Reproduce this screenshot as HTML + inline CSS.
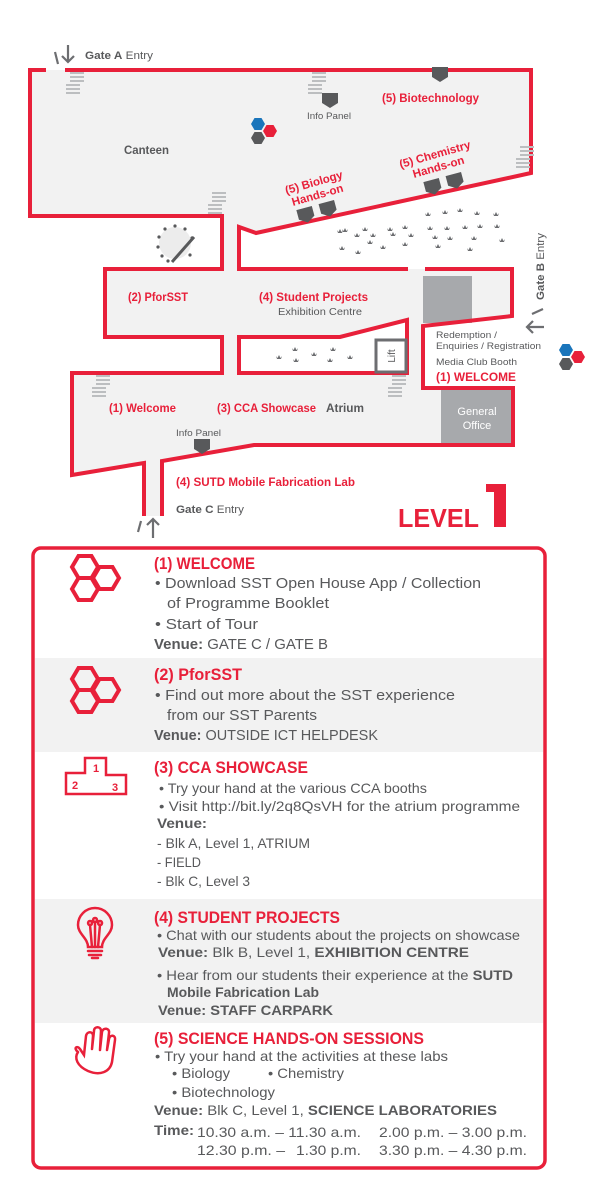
<!DOCTYPE html>
<html><head><meta charset="utf-8"><style>
html,body{margin:0;padding:0;background:#fff;}
svg{display:block;}
text{font-family:"Liberation Sans",sans-serif;}
</style></head><body>
<svg width="598" height="1194" viewBox="0 0 598 1194" xmlns="http://www.w3.org/2000/svg">
<defs>
<g id="st"><rect x="0" y="0" width="14" height="2" fill="#bcbec0"/><rect x="0" y="4" width="14" height="2" fill="#bcbec0"/><rect x="0" y="8" width="14" height="2" fill="#bcbec0"/><rect x="-4" y="12" width="14" height="2" fill="#bcbec0"/><rect x="-4" y="16" width="14" height="2" fill="#bcbec0"/><rect x="-4" y="20" width="14" height="2" fill="#bcbec0"/></g>
<path id="pl" d="M-3,-1 L-1.5,1 L0,-2 L1.5,1 L3,-1 L2,2 L-2,2 Z" fill="#6d6e71"/>
<path id="pent" d="M-8,-7 H8 V3 L0,8 L-8,3 Z" fill="#58595b"/>
<path id="hx" d="M-7,0 L-3.5,-6 L3.5,-6 L7,0 L3.5,6 L-3.5,6 Z"/>
<path id="hxo" d="M-13,0 L-6.5,-11 L6.5,-11 L13,0 L6.5,11 L-6.5,11 Z" fill="none" stroke="#e8203a" stroke-width="4"/>
</defs>

<!-- floor fills -->
<polygon points="30,70 531,70 531,173 256,233 239,227 239,269 222,269 222,216 30,216" fill="#f2f2f2"/>
<polygon points="105,269 512,269 512,316 423,326 423,388 513,388 513,445 254,445 162,461 162,516 144,516 144,463 72,475 72,373 222,373 222,337 105,337" fill="#f2f2f2"/>
<rect x="423" y="276" width="49" height="47" fill="#a7a9ac"/>
<rect x="441" y="390" width="72" height="55" fill="#a7a9ac"/>
<polygon points="239,337 340,337 407,320 407,373 239,373" fill="#fff"/>

<!-- red walls -->
<g fill="none" stroke="#e8203a" stroke-width="4" stroke-linejoin="miter">
<polyline points="46,70 30,70 30,216 222,216 222,269 105,269 105,337 222,337 222,373 72,373 72,475 144,463 144,516"/>
<polyline points="65,70 531,70 531,173 256,233 239,227 239,269 408,269"/>
<polyline points="425,269 512,269 512,316 423,326 423,388 513,388 513,445 254,445 162,461 162,516"/>
<polygon points="239,337 340,337 407,320 407,373 239,373"/>
</g>
<rect x="376" y="340" width="30" height="32" fill="#fff" stroke="#6d6e71" stroke-width="3"/>
<text transform="translate(395,356) rotate(-90)" font-size="10" fill="#58595b" text-anchor="middle">Lift</text>

<!-- stairs -->
<use href="#st" x="70" y="72"/>
<use href="#st" x="312" y="72"/>
<use href="#st" x="520" y="146"/>
<use href="#st" x="212" y="192"/>
<use href="#st" x="96" y="375"/>
<use href="#st" x="392" y="375"/>

<!-- pentagons -->
<use href="#pent" x="440" y="74"/>
<use href="#pent" x="330" y="100"/>
<use href="#pent" x="202" y="446"/>
<g transform="rotate(-15 316 210)"><use href="#pent" x="305" y="212"/><use href="#pent" x="328" y="212"/></g>
<g transform="rotate(-15 443 182)"><use href="#pent" x="432" y="184"/><use href="#pent" x="455" y="184"/></g>

<!-- hex clusters -->
<use href="#hx" x="258" y="124" fill="#1a75bb"/>
<use href="#hx" x="270" y="131" fill="#e8203a"/>
<use href="#hx" x="258" y="138" fill="#58595b"/>
<use href="#hx" x="566" y="350" fill="#1a75bb"/>
<use href="#hx" x="578" y="357" fill="#e8203a"/>
<use href="#hx" x="566" y="364" fill="#58595b"/>

<!-- round table -->
<circle cx="175" cy="243" r="16" fill="#ececec"/>
<g fill="#58595b">
<circle cx="175" cy="226" r="1.6"/><circle cx="165" cy="229" r="1.6"/><circle cx="185" cy="229" r="1.6"/><circle cx="159" cy="237" r="1.6"/><circle cx="158" cy="247" r="1.6"/><circle cx="162" cy="256" r="1.6"/><circle cx="168" cy="261" r="1.6"/><circle cx="192" cy="238" r="1.6"/><circle cx="190" cy="255" r="1.6"/>
</g>
<line x1="172" y1="262" x2="194" y2="237" stroke="#58595b" stroke-width="3"/>

<!-- plants -->
<g>
<use href="#pl" x="445" y="212"/><use href="#pl" x="460" y="210"/><use href="#pl" x="477" y="213"/><use href="#pl" x="496" y="214"/><use href="#pl" x="428" y="214"/>
<use href="#pl" x="345" y="230"/><use href="#pl" x="365" y="229"/><use href="#pl" x="390" y="229"/><use href="#pl" x="405" y="227"/><use href="#pl" x="430" y="228"/><use href="#pl" x="447" y="228"/><use href="#pl" x="465" y="227"/><use href="#pl" x="480" y="226"/><use href="#pl" x="497" y="226"/>
<use href="#pl" x="340" y="231"/><use href="#pl" x="357" y="235"/><use href="#pl" x="373" y="235"/><use href="#pl" x="393" y="234"/><use href="#pl" x="411" y="235"/><use href="#pl" x="435" y="237"/><use href="#pl" x="450" y="238"/><use href="#pl" x="474" y="238"/><use href="#pl" x="502" y="240"/>
<use href="#pl" x="342" y="248"/><use href="#pl" x="358" y="252"/><use href="#pl" x="370" y="242"/><use href="#pl" x="383" y="247"/><use href="#pl" x="405" y="244"/><use href="#pl" x="438" y="246"/><use href="#pl" x="470" y="249"/>
<use href="#pl" x="279" y="357"/><use href="#pl" x="295" y="349"/><use href="#pl" x="296" y="360"/><use href="#pl" x="314" y="354"/><use href="#pl" x="333" y="349"/><use href="#pl" x="330" y="360"/><use href="#pl" x="350" y="357"/>
</g>

<!-- map labels -->
<g font-size="11" fill="#58595b">
<text x="85" y="59" textLength="68" lengthAdjust="spacingAndGlyphs"><tspan font-weight="bold">Gate A</tspan> Entry</text>
<text x="124" y="154" font-size="11.5" font-weight="bold" textLength="45" lengthAdjust="spacingAndGlyphs">Canteen</text>
<text x="307" y="119" font-size="9" textLength="44" lengthAdjust="spacingAndGlyphs">Info Panel</text>
<text x="278" y="315" font-size="10" textLength="84" lengthAdjust="spacingAndGlyphs">Exhibition Centre</text>
<text x="436" y="338" font-size="9.5" textLength="61" lengthAdjust="spacingAndGlyphs">Redemption /</text>
<text x="436" y="349" font-size="9.5" textLength="105" lengthAdjust="spacingAndGlyphs">Enquiries / Registration</text>
<text x="436" y="365" font-size="9.5" textLength="81" lengthAdjust="spacingAndGlyphs">Media Club Booth</text>
<text x="326" y="412" font-size="11.5" font-weight="bold" textLength="38" lengthAdjust="spacingAndGlyphs">Atrium</text>
<text x="176" y="436" font-size="9" textLength="45" lengthAdjust="spacingAndGlyphs">Info Panel</text>
<text x="176" y="513" textLength="68" lengthAdjust="spacingAndGlyphs"><tspan font-weight="bold">Gate C</tspan> Entry</text>
<text transform="translate(544,300) rotate(-90)" textLength="67" lengthAdjust="spacingAndGlyphs"><tspan font-weight="bold">Gate B</tspan> Entry</text>
</g>
<text x="477" y="415" font-size="11" fill="#fff" text-anchor="middle">General</text>
<text x="477" y="429" font-size="11" fill="#fff" text-anchor="middle">Office</text>
<g font-size="11.5" fill="#e8203a" font-weight="bold">
<text x="382" y="102" textLength="97" lengthAdjust="spacingAndGlyphs">(5) Biotechnology</text>
<text x="128" y="301" textLength="60" lengthAdjust="spacingAndGlyphs">(2) PforSST</text>
<text x="259" y="301" textLength="109" lengthAdjust="spacingAndGlyphs">(4) Student Projects</text>
<text x="436" y="381" textLength="80" lengthAdjust="spacingAndGlyphs">(1) WELCOME</text>
<text x="109" y="412" textLength="67" lengthAdjust="spacingAndGlyphs">(1) Welcome</text>
<text x="217" y="412" textLength="99" lengthAdjust="spacingAndGlyphs">(3) CCA Showcase</text>
<text x="176" y="486" textLength="179" lengthAdjust="spacingAndGlyphs">(4) SUTD Mobile Fabrication Lab</text>
<g transform="rotate(-16 316 190)">
<text x="316" y="186" text-anchor="middle">(5) Biology</text>
<text x="316" y="199" text-anchor="middle">Hands-on</text>
</g>
<g transform="rotate(-16 437 162)">
<text x="437" y="158" text-anchor="middle">(5) Chemistry</text>
<text x="437" y="171" text-anchor="middle">Hands-on</text>
</g>
</g>

<!-- arrows -->
<g stroke="#6d6e71" stroke-width="2.2" fill="none">
<line x1="55" y1="52" x2="58" y2="64"/>
<path d="M68,45 V62 M62,56 L68,62 L74,56"/>
<line x1="138" y1="532" x2="141" y2="521"/>
<path d="M153,538 V519 M147,525 L153,519 L159,525"/>
<line x1="532" y1="314" x2="543" y2="309"/>
<path d="M544,327 H527 M533,321 L527,327 L533,333"/>
</g>

<!-- LEVEL 1 -->
<text x="398" y="527" font-size="26" font-weight="bold" fill="#e8203a" textLength="81" lengthAdjust="spacingAndGlyphs">LEVEL</text>
<rect x="494" y="484" width="12" height="43" fill="#e8203a"/>
<path d="M486,484 H500 V492 H486 Z" fill="#e8203a"/>

<!-- Legend box -->
<rect x="33" y="548" width="512" height="620" rx="8" fill="#fff" stroke="#e8203a" stroke-width="3.5"/>
<rect x="35" y="658" width="508" height="94" fill="#f2f2f2"/>
<rect x="35" y="899" width="508" height="124" fill="#f2f2f2"/>

<!-- icons -->
<use href="#hxo" x="85" y="567"/><use href="#hxo" x="106" y="578"/><use href="#hxo" x="85" y="589"/>
<use href="#hxo" x="85" y="679"/><use href="#hxo" x="106" y="690"/><use href="#hxo" x="85" y="701"/>
<path d="M66,794 V773 H85 V758 H106 V775 H126 V794 Z" fill="none" stroke="#e8203a" stroke-width="2.5"/>
<g font-size="11" font-weight="bold" fill="#e8203a"><text x="72" y="789">2</text><text x="93" y="772">1</text><text x="112" y="791">3</text></g>
<g fill="none" stroke="#e8203a" stroke-width="2.5" stroke-linecap="round">
<path d="M88,947 C88,938 78,934 78,925 A17,17 0 1 1 112,925 C112,934 102,938 102,947 Z"/>
<path d="M88,951 H102 M89,955 H101 M92,958 H98"/>
<path d="M92,947 L90,925 M98,947 L100,925 M95,947 V922 M90,925 a2,2 0 1 1 0.1,0 M100,925 a2,2 0 1 1 0.1,0 M95,922 a2,2 0 1 1 0.1,0"/>
<path d="M78,1052 C74,1058 77,1066 88,1071 C100,1076 110,1072 112,1062 L115,1040 C116,1035 110,1034 109,1039 L107,1050 M107,1050 L109,1033 C110,1028 103,1027 102,1032 L100,1050 M100,1050 L101,1031 C101,1026 94,1026 94,1031 L92,1049 M92,1049 L93,1036 C93,1031 87,1031 86,1036 L84,1055 L80,1049 C77,1045 73,1048 78,1052"/>
</g>

<!-- legend text -->
<g fill="#e8203a" font-weight="bold" font-size="17">
<text x="154" y="569" textLength="101" lengthAdjust="spacingAndGlyphs">(1) WELCOME</text>
<text x="154" y="680" textLength="88" lengthAdjust="spacingAndGlyphs">(2) PforSST</text>
<text x="154" y="773" textLength="154" lengthAdjust="spacingAndGlyphs">(3) CCA SHOWCASE</text>
<text x="154" y="923" textLength="186" lengthAdjust="spacingAndGlyphs">(4) STUDENT PROJECTS</text>
<text x="154" y="1044" textLength="270" lengthAdjust="spacingAndGlyphs">(5) SCIENCE HANDS-ON SESSIONS</text>
</g>
<g fill="#58595b" font-size="15">
<text x="155" y="588" textLength="326" lengthAdjust="spacingAndGlyphs">• Download SST Open House App / Collection</text>
<text x="167" y="608" textLength="162" lengthAdjust="spacingAndGlyphs">of Programme Booklet</text>
<text x="155" y="629" textLength="103" lengthAdjust="spacingAndGlyphs">• Start of Tour</text>
<text x="154" y="649" textLength="174" lengthAdjust="spacingAndGlyphs"><tspan font-weight="bold">Venue:</tspan> GATE C / GATE B</text>
<text x="155" y="700" textLength="300" lengthAdjust="spacingAndGlyphs">• Find out more about the SST experience</text>
<text x="167" y="720" textLength="150" lengthAdjust="spacingAndGlyphs">from our SST Parents</text>
<text x="154" y="740" textLength="224" lengthAdjust="spacingAndGlyphs"><tspan font-weight="bold">Venue:</tspan> OUTSIDE ICT HELPDESK</text>
</g>
<g fill="#58595b" font-size="14">
<text x="159" y="793" textLength="268" lengthAdjust="spacingAndGlyphs">• Try your hand at the various CCA booths</text>
<text x="159" y="811" textLength="361" lengthAdjust="spacingAndGlyphs">• Visit http://bit.ly/2q8QsVH for the atrium programme</text>
<text x="157" y="828" font-weight="bold" textLength="50" lengthAdjust="spacingAndGlyphs">Venue:</text>
<text x="157" y="848" textLength="153" lengthAdjust="spacingAndGlyphs">- Blk A, Level 1, ATRIUM</text>
<text x="157" y="867" textLength="44" lengthAdjust="spacingAndGlyphs">- FIELD</text>
<text x="157" y="886" textLength="93" lengthAdjust="spacingAndGlyphs">- Blk C, Level 3</text>
<text x="157" y="940" textLength="363" lengthAdjust="spacingAndGlyphs">• Chat with our students about the projects on showcase</text>
<text x="158" y="957" textLength="311" lengthAdjust="spacingAndGlyphs"><tspan font-weight="bold">Venue:</tspan> Blk B, Level 1, <tspan font-weight="bold">EXHIBITION CENTRE</tspan></text>
<text x="157" y="980" textLength="356" lengthAdjust="spacingAndGlyphs">• Hear from our students their experience at the <tspan font-weight="bold">SUTD</tspan></text>
<text x="167" y="997" font-weight="bold" textLength="152" lengthAdjust="spacingAndGlyphs">Mobile Fabrication Lab</text>
<text x="158" y="1015" font-weight="bold" textLength="175" lengthAdjust="spacingAndGlyphs">Venue: STAFF CARPARK</text>
<text x="155" y="1061" textLength="293" lengthAdjust="spacingAndGlyphs">• Try your hand at the activities at these labs</text>
<text x="172" y="1078" textLength="58" lengthAdjust="spacingAndGlyphs">• Biology</text>
<text x="268" y="1078" textLength="76" lengthAdjust="spacingAndGlyphs">• Chemistry</text>
<text x="172" y="1097" textLength="103" lengthAdjust="spacingAndGlyphs">• Biotechnology</text>
<text x="154" y="1115" textLength="343" lengthAdjust="spacingAndGlyphs"><tspan font-weight="bold">Venue:</tspan> Blk C, Level 1, <tspan font-weight="bold">SCIENCE LABORATORIES</tspan></text>
<text x="154" y="1135" font-weight="bold" textLength="40" lengthAdjust="spacingAndGlyphs">Time:</text>
<text x="197" y="1137" textLength="164" lengthAdjust="spacingAndGlyphs">10.30 a.m. – 11.30 a.m.</text>
<text x="379" y="1137" textLength="148" lengthAdjust="spacingAndGlyphs">2.00 p.m. – 3.00 p.m.</text>
<text x="197" y="1155" textLength="88" lengthAdjust="spacingAndGlyphs">12.30 p.m. –</text>
<text x="296" y="1155" textLength="65" lengthAdjust="spacingAndGlyphs">1.30 p.m.</text>
<text x="379" y="1155" textLength="148" lengthAdjust="spacingAndGlyphs">3.30 p.m. – 4.30 p.m.</text>
</g>
</svg>
</body></html>
